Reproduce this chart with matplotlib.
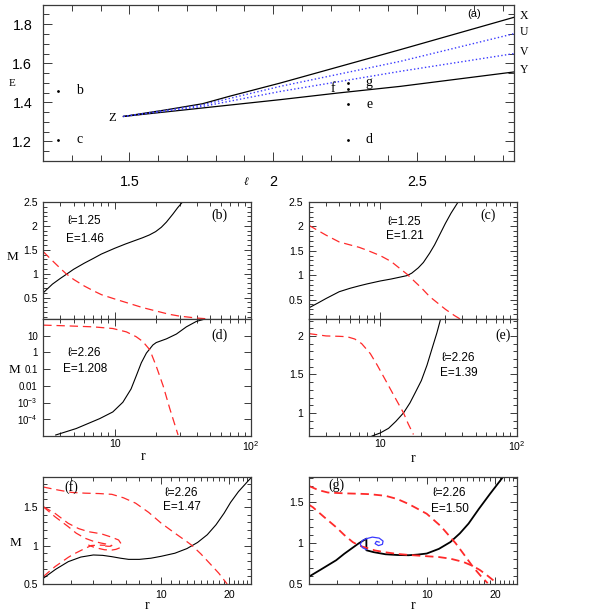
import matplotlib
matplotlib.use('Agg')
from matplotlib import pyplot as plt
from matplotlib.ticker import MultipleLocator, FixedLocator, NullFormatter, LogLocator

plt.rcParams['font.family'] = ['Liberation Sans', 'DejaVu Sans']
plt.rcParams['mathtext.fontset'] = 'custom'
plt.rcParams['mathtext.rm'] = 'Liberation Sans'
plt.rcParams['lines.scale_dashes'] = False
SERIF = ['Liberation Serif', 'DejaVu Serif']
RED = '#ff2a2a'
BLUE = '#3a3aff'
SPINE = '#3a3a3a'
DASH = (6, 3.5)

# ---- panel (a): E vs l ----
pt_l = [1.25, 1.25, 2.26, 2.26, 2.26, 2.26]
pt_E = [1.46, 1.21, 1.208, 1.39, 1.47, 1.50]
pt_names = ['b', 'c', 'd', 'e', 'f', 'g']
X_l = [1.479, 1.62, 1.754, 1.85, 2.025, 2.443, 2.84]
X_E = [1.328, 1.360, 1.393, 1.432, 1.499, 1.670, 1.836]
U_l = [1.479, 1.754, 2.025, 2.443, 2.84]
U_E = [1.328, 1.387, 1.482, 1.610, 1.752]
V_l = [1.479, 1.754, 2.025, 2.443, 2.84]
V_E = [1.328, 1.379, 1.456, 1.559, 1.650]
Y_l = [1.479, 2.025, 2.226, 2.443, 2.84]
Y_E = [1.328, 1.414, 1.448, 1.482, 1.556]

# ---- panel (b) l=1.25 E=1.46 ----
b_r = [3.0, 3.5, 4.0, 4.4, 5, 6, 7, 8, 10, 12, 14, 16, 18, 20, 22, 24, 26.8, 29, 31.5]
b_M = [0.60, 0.78, 0.90, 0.98, 1.09, 1.22, 1.32, 1.41, 1.53, 1.62, 1.69, 1.75, 1.81,
       1.88, 1.97, 2.08, 2.25, 2.38, 2.50]
b_rd = [3.0, 3.5, 4.0, 4.4, 5, 6, 7, 8, 10, 13, 16, 20, 25, 30, 40, 50]
b_Md = [1.46, 1.27, 1.11, 1.0, 0.88, 0.74, 0.64, 0.56, 0.47, 0.37, 0.29, 0.22, 0.15,
        0.11, 0.07, 0.05]

# ---- panel (c) l=1.25 E=1.21 ----
c_r = [3.0, 3.5, 4, 5, 6, 7, 8, 10, 12, 14, 15.7, 17, 19, 20.7, 23, 25, 27.5, 30, 33, 37.4]
c_M = [0.33, 0.43, 0.52, 0.66, 0.73, 0.78, 0.82, 0.88, 0.92, 0.96, 0.99, 1.04, 1.15,
       1.26, 1.45, 1.62, 1.85, 2.06, 2.27, 2.51]
c_rd = [3.0, 4, 5, 6, 7, 8, 10, 12, 14, 15.7, 18, 20, 23, 26, 30, 35, 38.5]
c_Md = [2.02, 1.82, 1.68, 1.62, 1.57, 1.51, 1.40, 1.28, 1.13, 1.02, 0.86, 0.74, 0.56,
        0.44, 0.30, 0.17, 0.10]

# ---- panel (d) l=2.26 E=1.208 (log M) ----
d_r = [3.7, 5.23, 7.78, 9.7, 11.5, 13.2, 14.4, 15.7, 17.1, 19.1, 20.2, 24.0, 28.4, 33.6, 39.8, 47.2]
d_M = [1.15e-5, 2.8e-5, 1.1e-4, 2.75e-4, 1.05e-3, 6.5e-3, 0.039, 0.24, 0.91, 2.8, 3.9,
       6.5, 12.6, 34, 72, 105]
d_rd = [3.0, 4.42, 6.93, 9.7, 12.2, 14.4, 16.1, 18.1, 20.2, 22.7, 25.4, 29.2]
d_Md = [43, 39, 34, 27, 17, 8.7, 4.5, 1.45, 0.15, 0.01, 4.3e-4, 1.15e-5]

# ---- panel (e) l=2.26 E=1.39 ----
e_r = [8.7, 10, 11.5, 13, 14.8, 16.5, 18, 20, 22, 24, 26, 27.5]
e_M = [0.70, 0.74, 0.80, 0.89, 1.0, 1.13, 1.26, 1.42, 1.62, 1.84, 2.04, 2.2]
e_rd = [3.0, 4, 5, 5.7, 6.5, 7.3, 8.45, 9.5, 11.2, 13, 14.8, 16, 17.5]
e_Md = [2.03, 2.0, 1.995, 1.99, 1.96, 1.90, 1.77, 1.62, 1.39, 1.18, 1.0, 0.86, 0.72]

# ---- panel (f) l=2.26 E=1.47 ----
f_r = [3.0, 3.4, 3.87, 4.4, 5.0, 5.5, 6.04, 6.6, 7.17, 8, 9, 10, 11.5, 13, 14.5, 16,
       17.5, 19, 20.3, 22, 25]
f_M = [0.574, 0.69, 0.79, 0.85, 0.877, 0.872, 0.855, 0.835, 0.82, 0.82, 0.835, 0.86,
       0.90, 0.96, 1.04, 1.14, 1.27, 1.42, 1.56, 1.70, 1.88]
f_r1 = [3.0, 3.5, 4, 4.6, 5.3, 6.04, 6.8, 7.7, 8.8, 10, 11.5, 13, 13.7, 15, 16.5, 18, 19.6]
f_M1 = [1.76, 1.72, 1.69, 1.68, 1.675, 1.665, 1.62, 1.55, 1.43, 1.29, 1.16, 1.05, 1.0,
        0.89, 0.76, 0.64, 0.5]
f_r2 = [3.0, 3.38, 3.87, 4.3, 4.75, 5.1, 5.45, 6.0, 6.47, 6.65, 6.55, 6.3, 6.04, 5.6,
        5.27, 4.95, 4.75]
f_M2 = [1.504, 1.418, 1.288, 1.22, 1.18, 1.165, 1.15, 1.11, 1.072, 1.02, 0.97, 0.95,
        0.941, 0.945, 0.963, 0.985, 1.007]
f_r3 = [3.0, 3.38, 3.87, 4.2, 4.6, 5.0, 5.45, 5.8, 6.04, 5.95, 5.8, 5.64]
f_M3 = [1.504, 1.374, 1.245, 1.16, 1.094, 1.055, 1.03, 1.015, 1.0, 0.99, 0.99, 0.994]
f_r4 = [3.0, 3.38, 3.87, 4.1, 4.44, 4.9, 5.3, 5.64]
f_M4 = [0.596, 0.725, 0.846, 0.89, 0.941, 1.0, 1.005, 1.003]

# ---- panel (g) l=2.26 E=1.50 ----
g_r = [3.0, 3.4, 3.96, 4.3, 4.69, 5.0, 5.39, 5.39, 5.8, 6.55, 7.4, 8.29, 9.1, 9.98,
       11.3, 12.7, 14, 15.3, 17, 19, 21.6]
g_M = [0.59, 0.68, 0.791, 0.87, 0.945, 1.0, 1.055, 0.913, 0.89, 0.864, 0.855, 0.852,
       0.86, 0.873, 0.93, 1.013, 1.12, 1.24, 1.42, 1.6, 1.80]
g_r1 = [3.0, 3.3, 3.64, 4.3, 5.0, 5.55, 6.55, 7.4, 8.29, 9.1, 9.98, 11.5, 13.4, 14.7,
        16.0, 17.3, 18.6]
g_M1 = [1.70, 1.65, 1.62, 1.61, 1.605, 1.60, 1.58, 1.54, 1.48, 1.42, 1.36, 1.21, 1.0,
        0.85, 0.71, 0.60, 0.51]
g_r2 = [3.0, 3.12, 3.5, 3.96, 4.3, 4.69, 5.0, 5.37, 5.9, 6.55, 7.4, 8.29, 9.98, 11.3,
        12.7, 14.5, 16, 17.2, 18.6, 20.0]
g_M2 = [1.47, 1.44, 1.32, 1.195, 1.10, 1.013, 0.97, 0.945, 0.91, 0.888, 0.868, 0.856,
        0.84, 0.83, 0.81, 0.77, 0.72, 0.67, 0.60, 0.53]
g_rb = [5.39, 5.73, 6.14, 6.39, 6.35, 6.10, 5.89, 5.97, 6.14]
g_Mb = [1.055, 1.074, 1.062, 1.026, 0.986, 0.97, 0.994, 1.022, 1.013]
g_rb2 = [5.39, 5.18, 5.06, 5.18, 5.39]
g_Mb2 = [1.055, 1.034, 0.986, 0.945, 0.921]


def style(ax, size, pad=4):
    for s in ax.spines.values():
        s.set_color(SPINE)
        s.set_linewidth(0.9)
    ax.tick_params(which='both', direction='in', top=True, right=True,
                   color=SPINE, width=0.7, labelsize=size, pad=pad)
    ax.tick_params(which='major', length=5)
    ax.tick_params(which='minor', length=2.8)


fig = plt.figure(figsize=(5.89, 6.11), dpi=100)

# panel (a)
ax = fig.add_axes([0.0735, 0.7365, 0.7997, 0.2558])
ax.plot(X_l, X_E, color='black', lw=0.9)
ax.plot(Y_l, Y_E, color='black', lw=0.9)
ax.plot(U_l, U_E, color=BLUE, lw=1.0, ls=':')
ax.plot(V_l, V_E, color=BLUE, lw=1.0, ls=':')
ax.plot(pt_l, pt_E, 'k.', ms=2)
for l, E, n in zip(pt_l, pt_E, pt_names):
    dx = -0.05 if n == 'f' else 0.075
    ax.text(l + dx, E, n, family=SERIF, fontsize=10, va='center', ha='center')
ax.text(1.44, 1.322, 'Z', family=SERIF, fontsize=9, va='center', ha='center')
ax.text(2.70, 1.85, '(a)', fontsize=8, va='center', ha='center')
for lab, E in zip(['X', 'U', 'V', 'Y'], [X_E[-1], U_E[-1], V_E[-1], Y_E[-1]]):
    ax.text(1.012, E + 0.008, lab, transform=ax.get_yaxis_transform(),
            family=SERIF, fontsize=8.5, va='center', ha='left')
ax.set_xlim(1.2, 2.84)
ax.set_ylim(1.1, 1.9)
ax.xaxis.set_major_locator(FixedLocator([1.5, 2.0, 2.5]))
ax.set_xticklabels(['1.5', '2', '2.5'])
ax.xaxis.set_minor_locator(MultipleLocator(0.1))
ax.yaxis.set_major_locator(FixedLocator([1.2, 1.4, 1.6, 1.8]))
ax.yaxis.set_minor_locator(MultipleLocator(0.05))
style(ax, 10.3)
ax.tick_params(which='major', length=6.5)
ax.tick_params(which='minor', length=4)
ax.tick_params(axis='x', pad=10)
ax.tick_params(axis='y', pad=8)
fig.text(0.0212, 0.8637, 'E', family=SERIF, fontsize=8, va='center', ha='center')
fig.text(0.417, 0.701, '\u2113', family=SERIF, fontsize=8, va='center', ha='center', style='italic')

# middle panels
W = 0.3526
H = 0.1915
L1, L2 = 0.0735, 0.5246
B1, B2 = 0.4779, 0.2864
panels = [
    ('b', [L1, B1, W, H], b_r, b_M, [(b_rd, b_Md)], '1.25', '1.46', (0.20, 0.84, 0.68), (0.85, 0.89)),
    ('c', [L2, B1, W, H], c_r, c_M, [(c_rd, c_Md)], '1.25', '1.21', (0.46, 0.83, 0.71), (0.86, 0.89)),
    ('d', [L1, B2, W, H], d_r, d_M, [(d_rd, d_Md)], '2.26', '1.208', (0.20, 0.71, 0.57), (0.85, 0.86)),
    ('e', [L2, B2, W, H], e_r, e_M, [(e_rd, e_Md)], '2.26', '1.39', (0.72, 0.67, 0.54), (0.935, 0.86)),
]
axes = {}
for name, rect, r, M, dashed, lval, Eval, tpos, ppos in panels:
    ax = fig.add_axes(rect)
    axes[name] = ax
    ax.plot(r, M, color='black', lw=0.8)
    for rd, Md in dashed:
        ax.plot(rd, Md, color=RED, lw=0.9, dashes=DASH)
    ax.set_xscale('log')
    ax.set_xlim(3, 100)
    ax.xaxis.set_major_locator(FixedLocator([10, 100]))
    ax.xaxis.set_minor_locator(LogLocator(subs=range(2, 10)))
    ax.xaxis.set_minor_formatter(NullFormatter())
    if name in ('b', 'c'):
        ax.set_xticklabels([])
    else:
        ax.set_xticklabels(['10', '10$^2$'])
    x0, y1, y2 = tpos
    ax.text(x0, y1, '\u2113=' + lval, transform=ax.transAxes, fontsize=8.5, ha='center', va='center')
    ax.text(x0, y2, 'E=' + Eval, transform=ax.transAxes, fontsize=8.5, ha='center', va='center')
    ax.text(ppos[0], ppos[1], '(' + name + ')', transform=ax.transAxes, family=SERIF,
            fontsize=10, ha='center', va='center')
    style(ax, 7.6)
    ax.tick_params(axis='x', pad=2)

ax = axes['b']
ax.set_ylim(0.05, 2.5)
ax.yaxis.set_major_locator(FixedLocator([0.5, 1, 1.5, 2, 2.5]))
ax.set_yticklabels(['0.5', '1', '1.5', '2', '2.5'])
ax.yaxis.set_minor_locator(MultipleLocator(0.1))
ax = axes['c']
ax.set_ylim(0.1, 2.5)
ax.yaxis.set_major_locator(FixedLocator([0.5, 1, 1.5, 2, 2.5]))
ax.set_yticklabels(['0.5', '1', '1.5', '2', '2.5'])
ax.yaxis.set_minor_locator(MultipleLocator(0.1))
ax = axes['d']
ax.set_yscale('log')
ax.set_ylim(1e-5, 100)
ax.yaxis.set_major_locator(FixedLocator([10, 1, 0.1, 0.01, 1e-3, 1e-4]))
ax.set_yticklabels(['10', '1', '0.1', '0.01', '10$^{-3}$', '10$^{-4}$'])
ax.yaxis.set_minor_locator(LogLocator(subs=range(2, 10)))
ax.yaxis.set_minor_formatter(NullFormatter())
ax.tick_params(axis='y', labelsize=7)
ax = axes['e']
ax.set_ylim(0.7, 2.22)
ax.yaxis.set_major_locator(FixedLocator([1, 1.5, 2]))
ax.set_yticklabels(['1', '1.5', '2'])
ax.yaxis.set_minor_locator(MultipleLocator(0.1))

fig.text(0.021, 0.580, 'M', family=SERIF, fontsize=9.5, va='center', ha='center')
fig.text(0.0245, 0.394, 'M', family=SERIF, fontsize=9.5, va='center', ha='center')
fig.text(0.243, 0.2525, 'r', family=SERIF, fontsize=10, va='center', ha='center')
fig.text(0.702, 0.25, 'r', family=SERIF, fontsize=10, va='center', ha='center')

# bottom panels
HB = 0.1751
BB = 0.0442
minor_r = [3, 4, 5, 6, 7, 8, 9, 11, 12, 13, 14, 15, 16, 17, 18, 19, 21, 22, 23, 24, 25]

ax_f = fig.add_axes([L1, BB, W, HB])
ax_f.plot(f_r, f_M, color='black', lw=0.8)
for rd, Md in [(f_r1, f_M1), (f_r2, f_M2), (f_r3, f_M3), (f_r4, f_M4)]:
    ax_f.plot(rd, Md, color=RED, lw=0.9, dashes=DASH)
ax_f.set_ylim(0.5, 1.89)
ax_f.text(0.137, 0.91, '(f)', transform=ax_f.transAxes, family=SERIF, fontsize=10, ha='center', va='center')
ax_f.text(0.666, 0.85, '\u2113=2.26', transform=ax_f.transAxes, fontsize=8.5, ha='center', va='center')
ax_f.text(0.666, 0.72, 'E=1.47', transform=ax_f.transAxes, fontsize=8.5, ha='center', va='center')

ax_g = fig.add_axes([L2, BB, W, HB])
ax_g.plot(g_r, g_M, color='black', lw=1.3)
for rd, Md in [(g_r1, g_M1), (g_r2, g_M2)]:
    ax_g.plot(rd, Md, color=RED, lw=1.3, dashes=DASH)
ax_g.plot(g_rb, g_Mb, color=BLUE, lw=0.9)
ax_g.plot(g_rb2, g_Mb2, color=BLUE, lw=0.9)
ax_g.set_ylim(0.5, 1.81)
ax_g.text(0.132, 0.925, '(g)', transform=ax_g.transAxes, family=SERIF, fontsize=10, ha='center', va='center')
ax_g.text(0.677, 0.85, '\u2113=2.26', transform=ax_g.transAxes, fontsize=8.5, ha='center', va='center')
ax_g.text(0.677, 0.70, 'E=1.50', transform=ax_g.transAxes, fontsize=8.5, ha='center', va='center')

for ax in (ax_f, ax_g):
    ax.set_xscale('log')
    ax.set_xlim(3, 25)
    ax.xaxis.set_major_locator(FixedLocator([10, 20]))
    ax.set_xticklabels(['10', '20'])
    ax.xaxis.set_minor_locator(FixedLocator(minor_r))
    ax.xaxis.set_minor_formatter(NullFormatter())
    ax.yaxis.set_major_locator(FixedLocator([0.5, 1, 1.5]))
    ax.set_yticklabels(['0.5', '1', '1.5'])
    ax.yaxis.set_minor_locator(MultipleLocator(0.1))
    style(ax, 7.6)

fig.text(0.027, 0.111, 'M', family=SERIF, fontsize=9.5, va='center', ha='center')
fig.text(0.249, 0.009, 'r', family=SERIF, fontsize=10, va='center', ha='center')
fig.text(0.702, 0.009, 'r', family=SERIF, fontsize=10, va='center', ha='center')

fig.savefig('out.png', dpi=100)
